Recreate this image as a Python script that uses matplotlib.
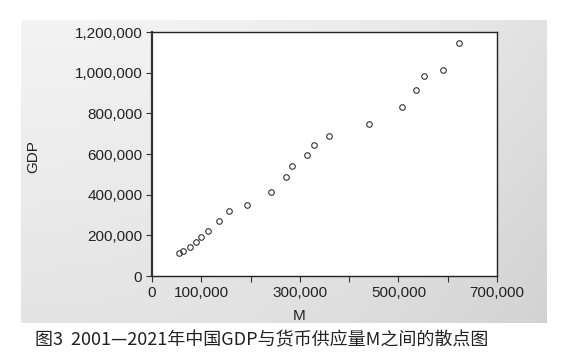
import matplotlib.pyplot as plt
import numpy as np
from matplotlib.ticker import FixedLocator, FuncFormatter

# 2001-2021, values
years = list(range(2001, 2022))
money_m = [55400, 63500, 77100, 89300, 99400, 113600, 136600, 155600, 192100,
           242100, 271300, 284100, 314500, 329300, 358500, 439700, 507200,
           535000, 552500, 589800, 622300]
gdp = [114600, 124400, 141100, 167200, 191800, 222800, 272000, 321200, 350700,
       413100, 489300, 542000, 595100, 644300, 688500, 746100, 831200,
       916300, 985100, 1011700, 1145900]

x_labelled = [0, 100000, 300000, 500000, 700000]
caption = "图3  2001—2021年中国GDP与货币供应量M之间的散点图"

W, H = 566, 356
fig = plt.figure(figsize=(W / 100, H / 100), dpi=100)
fig.patch.set_facecolor("white")

# grey gradient panel behind the plot (EViews style frame)
px0, py0, px1, py1 = 21, 20, 547, 323
bg = fig.add_axes([px0 / W, 1 - py1 / H, (px1 - px0) / W, (py1 - py0) / H])
gx, gy = np.meshgrid(np.linspace(0, 1, 200), np.linspace(0, 1, 120))
shade = 0.955 - 0.07 * gx ** 2 - 0.06 * gy
rgb = np.dstack([shade, shade, shade])
bg.imshow(rgb, aspect="auto", extent=[0, 1, 0, 1], origin="upper")
bg.set_axis_off()

ax0, ay0, ax1, ay1 = 152, 32, 497, 276
ax = fig.add_axes([ax0 / W, 1 - ay1 / H, (ax1 - ax0) / W, (ay1 - ay0) / H])
ax.set_facecolor("white")

ax.plot(money_m, gdp, linestyle="none", marker="o", markersize=4,
        markerfacecolor="none", markeredgecolor="#333333", markeredgewidth=0.8)

ax.set_xlim(0, 700000)
ax.set_ylim(0, 1200000)
ax.xaxis.set_major_locator(FixedLocator(range(0, 700001, 100000)))
ax.yaxis.set_major_locator(FixedLocator(range(0, 1200001, 200000)))
ax.xaxis.set_major_formatter(FuncFormatter(
    lambda v, p: f"{int(v):,}" if int(v) in x_labelled else ""))
ax.yaxis.set_major_formatter(FuncFormatter(lambda v, p: f"{int(v):,}"))

font = "Liberation Sans"
ax.tick_params(direction="out", length=4, width=0.8, color="#333333",
               labelsize=11, labelcolor="#222222", pad=3)
for lab in ax.get_xticklabels() + ax.get_yticklabels():
    lab.set_family(font)

for side in ["top", "right", "bottom"]:
    ax.spines[side].set_linewidth(1.0)
    ax.spines[side].set_color("#222222")
ax.spines["left"].set_linewidth(1.6)
ax.spines["left"].set_color("#333333")

ax.set_xlabel("M", family=font, fontsize=11, color="#222222")
ax.xaxis.set_label_coords(0.426, -0.135)
ax.set_ylabel("GDP", family=font, fontsize=11, color="#222222")
ax.yaxis.set_label_coords((40 - ax0) / (ax1 - ax0), 0.49)

fig.text(262 / W, 1 - 340 / H, caption, ha="center", va="center",
         fontsize=13, color="#222222",
         family=["Noto Sans CJK SC", "DejaVu Sans"])

fig.savefig("out.png", dpi=100)
